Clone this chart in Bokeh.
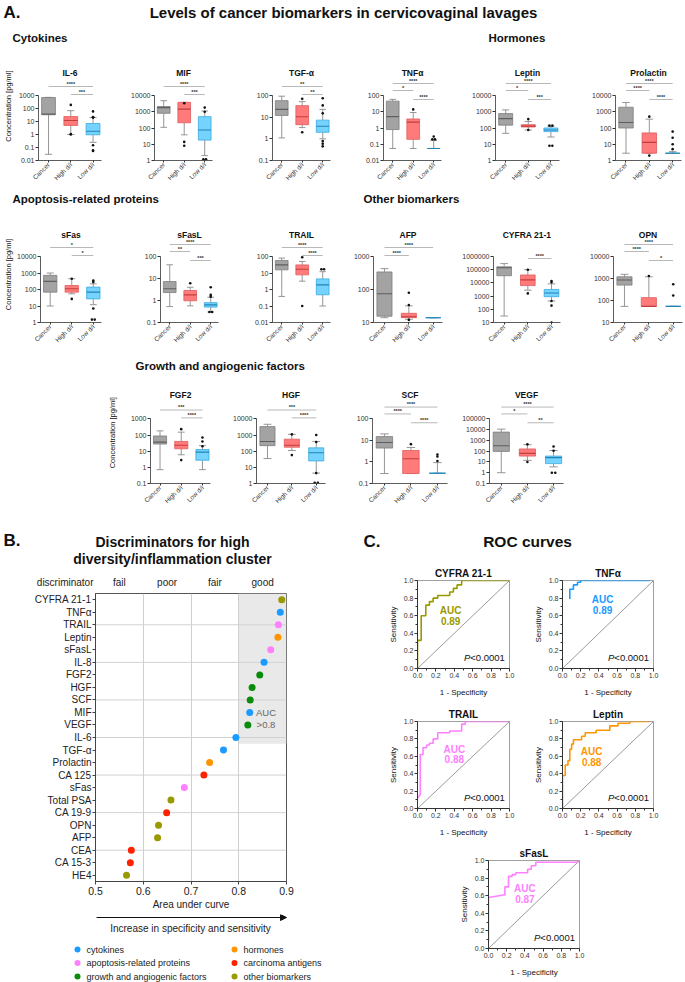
import math
from bokeh.plotting import figure
from bokeh.layouts import row, column
from bokeh.models import Range1d, FactorRange, Spacer, FixedTicker, NumeralTickFormatter, Arrow, NormalHead
from bokeh.core.properties import value
from bokeh.embed import file_html
from bokeh.resources import INLINE

FONT = "Liberation Sans"

# ---------------------------------------------------------------- data (panel A)
GROUPS = ["Cancer", "High d/i", "Low d/i"]
YLABEL = "Concentration [pg/ml]"
# per group: [whisker low, Q1, median, Q3, whisker high]
IL6_STATS = [[0.03, 33, 37, 700, 720], [1.0, 5.0, 12, 24, 68], [0.25, 0.95, 1.8, 7.0, 20]]
IL6_OUT = [[], [190, 1.1, 1.0], [60, 22, 21, 20, 0.15, 0.06, 0.055]]
IL6_SIG = [(0, 2, "****"), (1, 2, "***")]

MIF_STATS = [[110, 800, 1800, 2100, 4800], [38, 210, 1450, 3800, 3800], [2, 18, 75, 500, 1100]]
MIF_OUT = [[], [3300, 14, 8], [1800, 1000, 1.2, 1.2]]
MIF_SIG = [(0, 2, "****"), (1, 2, "***")]

TGFA_STATS = [[1.1, 12, 23, 58, 93], [3.3, 4.5, 10.5, 34, 52], [1.0, 2.0, 3.8, 7.3, 23]]
TGFA_OUT = [[], [70, 2.0], [75, 35, 15, 0.8, 0.6, 0.45]]
TGFA_SIG = [(0, 2, "**"), (1, 2, "**")]

TNFA_STATS = [[0.055, 0.8, 5, 45, 58], [0.055, 0.2, 2.3, 3.6, 9], [0.055, 0.055, 0.055, 0.055, 0.17]]
TNFA_OUT = [[], [14], [0.3, 0.2, 0.2]]
TNFA_SIG = [(0, 2, "****"), (0, 1, "*"), (1, 2, "****")]

LEPTIN_STATS = [[47, 150, 380, 770, 1300], [75, 115, 130, 160, 250], [28, 60, 75, 100, 130]]
LEPTIN_OUT = [[], [350, 75], [140, 140, 8, 8]]
LEPTIN_SIG = [(0, 2, "****"), (0, 1, "*"), (1, 2, "***")]

PROLACTIN_STATS = [[2.8, 100, 220, 1900, 3700], [2.8, 2.8, 13, 50, 350], [2.8, 2.8, 2.8, 2.8, 3.5]]
PROLACTIN_OUT = [[], [500, 2], [60, 25, 10, 5]]
PROLACTIN_SIG = [(0, 2, "****"), (0, 1, "****"), (1, 2, "****")]

SFAS_STATS = [[10, 69, 310, 720, 1000], [55, 69, 110, 175, 450], [12, 27, 69, 140, 220]]
SFAS_OUT = [[], [450, 27], [350, 280, 7, 1.5, 1.5]]
SFAS_SIG = [(0, 2, "*"), (1, 2, "*")]

SFASL_STATS = [[0.53, 2.3, 3.4, 7.3, 42], [0.57, 0.97, 1.8, 2.85, 4.0], [0.3, 0.5, 0.63, 0.8, 1.4]]
SFASL_OUT = [[], [6.1], [4, 1.8, 1.5, 0.3, 0.3]]
SFASL_SIG = [(0, 2, "****"), (0, 1, "**"), (1, 2, "***")]

TRAIL_STATS = [[0.38, 15.6, 31, 57, 80], [3.2, 7.7, 17, 31, 50], [0.1, 0.48, 1.9, 4.4, 12]]
TRAIL_OUT = [[], [90, 0.1], [17, 17]]
TRAIL_SIG = [(0, 2, "****"), (1, 2, "****")]

AFP_STATS = [[14, 15.5, 74, 340, 430], [12.5, 14, 15, 19, 32], [14, 14, 14, 14, 14]]
AFP_OUT = [[], [80, 34, 12], []]
AFP_SIG = [(0, 2, "****"), (0, 1, "****")]

CYFRA_STATS = [[31, 35000, 140000, 165000, 290000], [2800, 6300, 17000, 40000, 100000],
               [430, 900, 1700, 3200, 8500]]
CYFRA_OUT = [[], [100000, 1600], [14000, 11000, 430, 190, 10]]
CYFRA_SIG = [(1, 2, "****")]

OPN_STATS = [[54, 500, 850, 1200, 1550], [54, 54, 54, 135, 1200], [54, 54, 54, 54, 54]]
OPN_OUT = [[], [1300], [550, 170]]
OPN_SIG = [(0, 2, "****"), (0, 1, "****"), (1, 2, "*")]

FGF2_STATS = [[0.72, 27.5, 36, 87, 180], [6, 14, 23, 40, 150], [0.72, 2.75, 8.7, 12.6, 22]]
FGF2_OUT = [[], [230, 2.8], [70, 40, 20]]
FGF2_SIG = [(0, 2, "***"), (1, 2, "****")]

HGF_STATS = [[35, 220, 400, 3300, 4600], [110, 175, 230, 550, 1100], [4.4, 25, 80, 160, 400]]
HGF_OUT = [[], [1100, 57], [1000, 370, 4.4, 1.1, 1.1]]
HGF_SIG = [(0, 2, "***"), (1, 2, "****")]

SCF_STATS = [[0.29, 4.4, 8, 15, 20], [0.29, 0.29, 1.4, 3.4, 4.7], [0.3, 0.3, 0.3, 0.3, 0.93]]
SCF_OUT = [[], [6.7], [2.2, 1.8, 1.1]]
SCF_SIG = [(0, 2, "****"), (0, 1, "****"), (1, 2, "****")]

VEGF_STATS = [[1, 95, 320, 5900, 11000], [14, 35, 63, 160, 400], [3.5, 7, 25, 35, 115]]
VEGF_OUT = [[], [430, 10], [270, 110, 1, 1]]
VEGF_SIG = [(0, 2, "****"), (0, 1, "*"), (1, 2, "**")]

# axis decades (log10 of lowest and highest tick)
IL6_DEC, MIF_DEC, TGFA_DEC, TNFA_DEC = (-2, 3), (0, 4), (-1, 2), (-2, 2)
LEPTIN_DEC, PROLACTIN_DEC = (0, 4), (0, 4)
SFAS_DEC, SFASL_DEC, TRAIL_DEC = (0, 4), (-1, 2), (-2, 2)
AFP_DEC, CYFRA_DEC, OPN_DEC = (1, 3), (1, 6), (1, 4)
FGF2_DEC, HGF_DEC, SCF_DEC, VEGF_DEC = (-1, 3), (0, 4), (-1, 2), (-1, 5)

# ---------------------------------------------------------------- data (panel B)
B_MARKERS = ["CYFRA 21-1", "TNFα", "TRAIL", "Leptin", "sFasL", "IL-8", "FGF2", "HGF", "SCF", "MIF",
             "VEGF", "IL-6", "TGF-α", "Prolactin", "CA 125", "sFas", "Total PSA", "CA 19-9", "OPN",
             "AFP", "CEA", "CA 15-3", "HE4"]
B_AUC = [0.890, 0.887, 0.883, 0.882, 0.867, 0.853, 0.844, 0.828, 0.824, 0.823, 0.819, 0.794, 0.768,
         0.739, 0.727, 0.686, 0.658, 0.649, 0.632, 0.630, 0.575, 0.573, 0.565]
B_GROUP = ["other biomarkers", "cytokines", "apoptosis-related proteins", "hormones",
           "apoptosis-related proteins", "cytokines", "growth and angiogenic factors",
           "growth and angiogenic factors", "growth and angiogenic factors", "cytokines",
           "growth and angiogenic factors", "cytokines", "cytokines", "hormones", "carcinoma antigens",
           "apoptosis-related proteins", "other biomarkers", "carcinoma antigens", "other biomarkers",
           "other biomarkers", "carcinoma antigens", "carcinoma antigens", "other biomarkers"]
LEGEND_GROUPS = ["cytokines", "hormones", "apoptosis-related proteins", "carcinoma antigens",
                 "growth and angiogenic factors", "other biomarkers"]
LEGEND_COLORS = ["#1a9bff", "#ff9500", "#ff80ff", "#ff2200", "#0a8c0a", "#999900"]
BANDS = ["fail", "poor", "fair", "good"]
BAND_CENTERS = [0.55, 0.65, 0.75, 0.85]
AUC_TICKS = [0.5, 0.6, 0.7, 0.8, 0.9]
GOOD_THRESHOLD = 0.8

# ---------------------------------------------------------------- data (panel C)
CYFRA_FPR = [0, 0, 0.04, 0.04, 0.09, 0.09, 0.13, 0.13, 0.17, 0.17, 0.22, 0.22, 0.35, 0.35, 0.39, 0.39,
             0.43, 0.43, 0.48, 0.48, 1.0]
CYFRA_TPR = [0, 0.32, 0.32, 0.60, 0.60, 0.72, 0.72, 0.76, 0.76, 0.80, 0.80, 0.83, 0.83, 0.87, 0.87, 0.91,
             0.91, 0.95, 0.95, 1.0, 1.0]
TNFA_FPR = [0.08, 0.08, 0.12, 0.12, 0.165, 0.165, 0.20, 0.20, 0.96]
TNFA_TPR = [0.79, 0.90, 0.90, 0.95, 0.95, 0.98, 0.98, 1.0, 1.0]
TRAIL_FPR = [0, 0.03, 0.03, 0.06, 0.06, 0.10, 0.10, 0.13, 0.13, 0.17, 0.17, 0.22, 0.22, 0.35, 0.35, 0.48,
             0.48, 0.52, 0.52, 0.97]
TRAIL_TPR = [0.12, 0.16, 0.62, 0.62, 0.70, 0.70, 0.73, 0.73, 0.75, 0.75, 0.80, 0.80, 0.87, 0.87, 0.89, 0.89,
             0.97, 0.97, 1.0, 1.0]
LEPTIN_FPR = [0, 0, 0.03, 0.03, 0.06, 0.06, 0.08, 0.08, 0.10, 0.10, 0.12, 0.12, 0.21, 0.21, 0.25, 0.25,
              0.37, 0.37, 0.52, 0.52, 0.61, 0.61, 0.74, 0.74, 0.96]
LEPTIN_TPR = [0, 0.38, 0.38, 0.50, 0.50, 0.55, 0.55, 0.68, 0.68, 0.74, 0.74, 0.79, 0.79, 0.83, 0.83, 0.87,
              0.87, 0.90, 0.90, 0.95, 0.95, 0.98, 0.98, 1.0, 1.0]
SFASL_FPR = [0, 0, 0.18, 0.18, 0.22, 0.22, 0.26, 0.26, 0.30, 0.30, 0.43, 0.43, 0.47, 0.47, 0.52, 0.52, 0.98,
             0.98]
SFASL_TPR = [0.08, 0.58, 0.61, 0.70, 0.70, 0.82, 0.82, 0.84, 0.84, 0.86, 0.86, 0.90, 0.90, 0.94, 0.94, 0.98,
             0.98, 1.0]
ROC_AUC = {"CYFRA 21-1": "0.89", "TNFα": "0.89", "TRAIL": "0.88", "Leptin": "0.88", "sFasL": "0.87"}
ROC_P = "<0.0001"
ROC_TICKS = [0, 0.2, 0.4, 0.6, 0.8, 1.0]
ROC_MINOR = [0.1, 0.3, 0.5, 0.7, 0.9]
DIAG = [0, 1]

# ---------------------------------------------------------------- styles
BOX_FILL = ["#a3a3a3", "#ff7a7a", "#75d3ff"]
BOX_EDGE = ["#7d7d7d", "#e05c5c", "#3aa9dc"]
BOX_MED = ["#5e5e5e", "#c23e3e", "#2483b5"]
WHISK = "#8a8a8a"
AXC = "#333333"
SIG_OFFS = {1: [2], 2: [-9, -1], 3: [-12, -5, 4]}
SPLIT = 330  # x where panel B ends and panel C begins


def canvas(x0, x1, y0, y1):
    p = figure(width=x1 - x0, height=y1 - y0, x_range=Range1d(x0, x1),
               y_range=Range1d(y1, y0), x_axis_type=None, y_axis_type=None, title=None,
               toolbar_location=None, output_backend="svg", min_border=0, min_border_left=0,
               min_border_right=0, min_border_top=0, min_border_bottom=0)
    p.outline_line_color = None
    return p


def txt(p, x, y, s, size, style="normal", align="left", color="#111111", baseline="middle", **kw):
    p.text(x=[x], y=[y], text=[s], text_font=value(FONT), text_font_size=size,
           text_font_style=style, text_align=align, text_baseline=baseline, text_color=color, **kw)


def ylabel_canvas(x0, x1, y0, y1, xc, yc):
    c = canvas(x0, x1, y0, y1)
    txt(c, xc, yc, YLABEL, "7.5px", align="center", angle=math.pi / 2)
    return c


def spread(vals, x):
    counts = {}
    for v in vals:
        counts[v] = counts.get(v, 0) + 1
    seen, xs = {}, []
    for v in vals:
        n = counts[v]
        k = seen.get(v, 0)
        seen[v] = k + 1
        xs.append(x + (k - (n - 1) / 2) * 0.13)
    return xs


def box_fig(name, dec, stats, outs, sig, fx0, fx1, axx, frx, band):
    fy0, fy1, frt, tty, axt, axb = band
    lo, hi = dec
    bl = axx - fx0
    fw = frx - axx
    br = fx1 - frx
    bt = frt - fy0
    fh = axb - frt
    bb = fy1 - axb
    ppd = (axb - axt) / (hi - lo)

    def yv(ref_y):
        return 10 ** (hi + (axt - ref_y) / ppd)

    p = figure(width=bl + fw + br, height=bt + fh + bb, x_range=Range1d(-0.45, 2.38),
               y_range=Range1d(10 ** lo, yv(frt)), y_axis_type="log", title=None,
               toolbar_location=None, output_backend="svg", min_border_left=bl,
               min_border_right=br, min_border_top=bt, min_border_bottom=bb)
    p.outline_line_color = None
    p.xgrid.visible = False
    p.ygrid.visible = False

    xs = [0, 1, 2]
    lows = [s[0] for s in stats]
    q1 = [s[1] for s in stats]
    med = [s[2] for s in stats]
    q3 = [s[3] for s in stats]
    highs = [s[4] for s in stats]
    p.segment(x0=xs, y0=lows, x1=xs, y1=q1, line_color=WHISK, line_width=0.9)
    p.segment(x0=xs, y0=q3, x1=xs, y1=highs, line_color=WHISK, line_width=0.9)
    p.segment(x0=[x - 0.16 for x in xs], y0=lows, x1=[x + 0.16 for x in xs], y1=lows,
              line_color=WHISK, line_width=0.9)
    p.segment(x0=[x - 0.16 for x in xs], y0=highs, x1=[x + 0.16 for x in xs], y1=highs,
              line_color=WHISK, line_width=0.9)
    p.vbar(x=xs, width=0.62, bottom=q1, top=q3, fill_color=BOX_FILL, line_color=BOX_EDGE,
           line_width=0.8)
    p.segment(x0=[x - 0.31 for x in xs], y0=med, x1=[x + 0.31 for x in xs], y1=med,
              line_color=BOX_MED, line_width=1.1)
    for i, vals in enumerate(outs):
        if vals:
            p.scatter(x=spread(vals, i), y=vals, size=2.6, color="#111111", line_color=None)

    offs = SIG_OFFS[len(sig)]
    for (a, b, lab), off in zip(sig, offs):
        y = yv(axt + off)
        p.segment(x0=[a], y0=[y], x1=[b], y1=[y], line_color="#b0b0b0", line_width=0.9)
        txt(p, (a + b) / 2, y, lab, "5.5px", style="bold", align="center", color="#333333",
            baseline="bottom")

    txt(p, (-0.45 + 2.38) / 2, yv(tty), name, "8.5px", style="bold", align="center")

    ticks = [10 ** k for k in range(lo, hi + 1)]
    labels = {}
    for k, t in zip(range(lo, hi + 1), ticks):
        labels[t] = ("%.*f" % (-k, t)) if k < 0 else str(t)
    ya = p.yaxis[0]
    ya.ticker = FixedTicker(ticks=ticks, minor_ticks=[])
    ya.major_label_overrides = labels
    ya.bounds = (ticks[0], ticks[-1])
    ya.major_label_text_font = FONT
    ya.major_label_text_font_size = "7px"
    ya.major_label_text_color = AXC
    ya.major_label_standoff = 1
    ya.major_tick_out = 3
    ya.major_tick_in = 0
    ya.axis_line_color = AXC
    ya.major_tick_line_color = AXC
    ya.axis_line_width = 0.8

    xa = p.xaxis[0]
    xa.ticker = FixedTicker(ticks=[0, 1, 2], minor_ticks=[])
    xa.major_label_overrides = {i: g for i, g in enumerate(GROUPS)}
    xa.major_label_orientation = math.pi / 4
    xa.major_label_text_font = FONT
    xa.major_label_text_font_size = "6.5px"
    xa.major_label_text_color = AXC
    xa.major_label_standoff = 1
    xa.major_tick_out = 2
    xa.major_tick_in = 0
    xa.axis_line_color = AXC
    xa.major_tick_line_color = AXC
    xa.axis_line_width = 0.8
    return p


# ---------------------------------------------------------------- panel A
hdr1 = canvas(0, 685, 0, 60)
txt(hdr1, 3, 12, "A.", "17px", style="bold")
txt(hdr1, 343, 12, "Levels of cancer biomarkers in cervicovaginal lavages", "15px", style="bold",
    align="center")
txt(hdr1, 12, 37, "Cytokines", "11.5px", style="bold")
txt(hdr1, 488, 37, "Hormones", "11.5px", style="bold")

BAND1 = (60, 187, 64, 72, 95, 160)
B1 = [14, 113, 232, 345, 460, 578, 685]
AX1 = [38, 154, 272, 383, 495, 615]
FR1 = [101, 212, 330, 441, 559, 681]
row1_specs = [("IL-6", IL6_DEC, IL6_STATS, IL6_OUT, IL6_SIG),
              ("MIF", MIF_DEC, MIF_STATS, MIF_OUT, MIF_SIG),
              ("TGF-α", TGFA_DEC, TGFA_STATS, TGFA_OUT, TGFA_SIG),
              ("TNFα", TNFA_DEC, TNFA_STATS, TNFA_OUT, TNFA_SIG),
              ("Leptin", LEPTIN_DEC, LEPTIN_STATS, LEPTIN_OUT, LEPTIN_SIG),
              ("Prolactin", PROLACTIN_DEC, PROLACTIN_STATS, PROLACTIN_OUT, PROLACTIN_SIG)]
row1 = row([ylabel_canvas(0, B1[0], BAND1[0], BAND1[1], 8, 115)] +
           [box_fig(n, d, s, o, g, B1[i], B1[i + 1], AX1[i], FR1[i], BAND1)
            for i, (n, d, s, o, g) in enumerate(row1_specs)])

hdr2 = canvas(0, 685, 187, 222)
txt(hdr2, 12, 198, "Apoptosis-related proteins", "11.5px", style="bold")
txt(hdr2, 363, 198, "Other biomarkers", "11.5px", style="bold")

BAND2 = (222, 350, 226, 234, 256, 322)
B2 = [14, 115, 232, 345, 458, 578, 685]
AX2 = [38, 160, 272, 373, 493, 613]
FR2 = [101, 218, 330, 442, 560, 682]
row2_specs = [("sFas", SFAS_DEC, SFAS_STATS, SFAS_OUT, SFAS_SIG),
              ("sFasL", SFASL_DEC, SFASL_STATS, SFASL_OUT, SFASL_SIG),
              ("TRAIL", TRAIL_DEC, TRAIL_STATS, TRAIL_OUT, TRAIL_SIG),
              ("AFP", AFP_DEC, AFP_STATS, AFP_OUT, AFP_SIG),
              ("CYFRA 21-1", CYFRA_DEC, CYFRA_STATS, CYFRA_OUT, CYFRA_SIG),
              ("OPN", OPN_DEC, OPN_STATS, OPN_OUT, OPN_SIG)]
row2 = row([ylabel_canvas(0, B2[0], BAND2[0], BAND2[1], 8, 286)] +
           [box_fig(n, d, s, o, g, B2[i], B2[i + 1], AX2[i], FR2[i], BAND2)
            for i, (n, d, s, o, g) in enumerate(row2_specs)])

hdr3 = canvas(0, 685, 350, 382)
txt(hdr3, 135, 365, "Growth and angiogenic factors", "11.5px", style="bold")

BAND3 = (382, 510, 386, 395, 419, 485)
B3 = [120, 222, 340, 458, 575]
AX3 = [150, 256, 372, 489]
FR3 = [210, 325, 447, 563]
row3_specs = [("FGF2", FGF2_DEC, FGF2_STATS, FGF2_OUT, FGF2_SIG),
              ("HGF", HGF_DEC, HGF_STATS, HGF_OUT, HGF_SIG),
              ("SCF", SCF_DEC, SCF_STATS, SCF_OUT, SCF_SIG),
              ("VEGF", VEGF_DEC, VEGF_STATS, VEGF_OUT, VEGF_SIG)]
row3_children = [ylabel_canvas(0, B3[0], BAND3[0], BAND3[1], 112, 443)]
for i, (n, d, s, o, g) in enumerate(row3_specs):
    row3_children.append(box_fig(n, d, s, o, g, B3[i], B3[i + 1], AX3[i], FR3[i], BAND3))
row3_children.append(Spacer(width=685 - B3[-1], height=BAND3[1] - BAND3[0]))
row3 = row(row3_children)

# ---------------------------------------------------------------- panel B
PB_FRAME_X = (95, 286)
hB = canvas(0, SPLIT, 510, 590)
txt(hB, 3, 540, "B.", "17px", style="bold")
txt(hB, 172, 541, "Discriminators for high", "14px", style="bold", align="center")
txt(hB, 172, 558, "diversity/inflammation cluster", "14px", style="bold", align="center")
txt(hB, 93, 582, "discriminator", "10px", align="right", color="#222222")
for lab, c in zip(BANDS, BAND_CENTERS):
    xpx = PB_FRAME_X[0] + (c - AUC_TICKS[0]) / (AUC_TICKS[-1] - AUC_TICKS[0]) * (PB_FRAME_X[1] - PB_FRAME_X[0])
    txt(hB, xpx, 582, lab, "10px", align="center", color="#222222")

bl = PB_FRAME_X[0]
fw = PB_FRAME_X[1] - PB_FRAME_X[0]
br = SPLIT - PB_FRAME_X[1]
bt = 593 - 590
fh = 881 - 593
bb = 914 - 881
pB = figure(width=bl + fw + br, height=bt + fh + bb, x_range=Range1d(AUC_TICKS[0], AUC_TICKS[-1]),
            y_range=FactorRange(factors=list(reversed(B_MARKERS))), title=None,
            toolbar_location=None, output_backend="svg", min_border_left=bl, min_border_right=br,
            min_border_top=bt, min_border_bottom=bb)
pB.quad(left=[GOOD_THRESHOLD], right=[AUC_TICKS[-1]], bottom=[(B_MARKERS[11], -0.5)],
        top=[(B_MARKERS[0], 0.5)], fill_color="#e9e9e9", line_color=None, level="image")
hl = B_MARKERS[2::3]
pB.segment(x0=[AUC_TICKS[0]] * len(hl), x1=[AUC_TICKS[-1]] * len(hl), y0=hl, y1=hl,
           line_color="#d2d2d2", line_width=1)
gcol = dict(zip(LEGEND_GROUPS, LEGEND_COLORS))
pB.scatter(x=B_AUC, y=B_MARKERS, size=7, color=[gcol[g] for g in B_GROUP], line_color=None)
pB.text(x=[0.857, 0.857], y=["MIF", "VEGF"], text=["AUC", ">0.8"], text_font=value(FONT),
        text_font_size="9.5px", text_color="#666666", text_align="center", text_baseline="middle")
pB.outline_line_color = "#555555"
pB.outline_line_width = 1
pB.ygrid.visible = False
pB.xgrid.grid_line_color = "#cfcfcf"
pB.xgrid.grid_line_width = 1
pB.xaxis.ticker = FixedTicker(ticks=AUC_TICKS, minor_ticks=[])
pB.xaxis.formatter = NumeralTickFormatter(format="0.0")
pB.xaxis.axis_label = "Area under curve"
for ax in (pB.xaxis[0], pB.yaxis[0]):
    ax.major_label_text_font = FONT
    ax.major_label_text_font_size = "10px"
    ax.major_label_text_color = "#222222"
    ax.axis_line_color = "#444444"
    ax.major_tick_line_color = "#444444"
    ax.major_tick_out = 3
    ax.major_tick_in = 0
    ax.minor_tick_line_color = None
    ax.major_label_standoff = 1
pB.xaxis.major_label_text_font_size = "10.5px"
pB.xaxis.major_label_standoff = 2
pB.xaxis.axis_label_text_font = FONT
pB.xaxis.axis_label_text_font_size = "10px"
pB.xaxis.axis_label_text_font_style = "normal"
pB.xaxis.axis_label_text_color = "#222222"
pB.xaxis.axis_label_standoff = 1

fB = canvas(0, SPLIT, 914, 982)
fB.add_layout(Arrow(end=NormalHead(size=6, fill_color="#111111", line_color="#111111"),
                    x_start=96, y_start=917, x_end=286, y_end=917, line_width=1,
                    line_color="#111111"))
txt(fB, 190, 928, "Increase in specificity and sensitivity", "10px", align="center", color="#222222")
LEG_X = [77, 234]
for i, (g, c) in enumerate(zip(LEGEND_GROUPS, LEGEND_COLORS)):
    xx = LEG_X[i % 2]
    yy = 949 + 13.5 * (i // 2)
    fB.scatter(x=[xx], y=[yy], size=6, color=c, line_color=None)
    txt(fB, xx + 9, yy, g, "9px", color="#222222")

panelB = column(row(hB), row(pB), row(fB))


# ---------------------------------------------------------------- panel C
def roc_fig(name, fpr, tpr, color, fx0, fx1, frx0, frx1, fy0, fy1, fry0, fry1, auc_xy):
    bl = frx0 - fx0
    fw = frx1 - frx0
    br = fx1 - frx1
    bt = fry0 - fy0
    fh = fry1 - fry0
    bb = fy1 - fry1
    p = figure(width=bl + fw + br, height=bt + fh + bb, x_range=Range1d(0, 1), y_range=Range1d(0, 1),
               title=name, toolbar_location=None, output_backend="svg", min_border_left=bl,
               min_border_right=br, min_border_top=bt, min_border_bottom=bb)
    p.title.text_font = FONT
    p.title.text_font_size = "10px"
    p.title.text_font_style = "bold"
    p.title.align = "center"
    p.title.standoff = 3
    p.title.text_color = "#111111"
    p.xgrid.visible = False
    p.ygrid.visible = False
    p.outline_line_color = "#888888"
    p.outline_line_width = 0.8
    p.line(DIAG, DIAG, line_color="#555555", line_width=0.6)
    p.line(fpr, tpr, line_color=color, line_width=1.6)
    ax_, ay_ = auc_xy
    p.text(x=[ax_, ax_], y=[ay_, ay_ - 0.115], text=["AUC", ROC_AUC[name]], text_font=value(FONT),
           text_font_size="10px", text_font_style="bold", text_color=color, text_align="center",
           text_baseline="middle")
    txt(p, 0.95, 0.13, ROC_P, "9.5px", align="right", color="#111111")
    txt(p, 0.95, 0.13, "P", "9.5px", style="italic", align="right", color="#111111", x_offset=-34.6)
    for ax in (p.xaxis[0], p.yaxis[0]):
        ax.ticker = FixedTicker(ticks=ROC_TICKS, minor_ticks=ROC_MINOR)
        ax.formatter = NumeralTickFormatter(format="0.0")
        ax.major_label_text_font = FONT
        ax.major_label_text_font_size = "7px"
        ax.major_label_text_color = AXC
        ax.major_label_standoff = 1
        ax.axis_line_color = AXC
        ax.major_tick_line_color = AXC
        ax.minor_tick_line_color = AXC
        ax.major_tick_out = 3
        ax.major_tick_in = 0
        ax.minor_tick_out = 2
        ax.minor_tick_in = 0
        ax.axis_label_text_font = FONT
        ax.axis_label_text_font_size = "8px"
        ax.axis_label_text_font_style = "normal"
        ax.axis_label_text_color = "#111111"
    p.xaxis.axis_label = "1 - Specificity"
    p.xaxis.axis_label_standoff = 7
    p.yaxis.axis_label = "Sensitivity"
    p.yaxis.axis_label_standoff = 3
    return p


hC = canvas(SPLIT, 685, 510, 560)
txt(hC, 363, 541, "C.", "17px", style="bold")
txt(hC, 527, 541, "ROC curves", "15.5px", style="bold", align="center")

c_cyfra = roc_fig("CYFRA 21-1", CYFRA_FPR, CYFRA_TPR, "#999900", 370, 530, 417, 509, 560, 700, 580, 668,
                  (0.36, 0.66))
c_tnfa = roc_fig("TNFα", TNFA_FPR, TNFA_TPR, "#1a9bff", 530, 685, 561, 653, 560, 700, 580, 668,
                 (0.44, 0.78))
c_trail = roc_fig("TRAIL", TRAIL_FPR, TRAIL_TPR, "#ff80ff", 370, 530, 417, 509, 700, 842, 721, 808,
                  (0.40, 0.68))
c_leptin = roc_fig("Leptin", LEPTIN_FPR, LEPTIN_TPR, "#ff9500", 530, 685, 561, 653, 700, 842, 721, 808,
                   (0.32, 0.65))
c_sfasl = roc_fig("sFasL", SFASL_FPR, SFASL_TPR, "#ff80ff", 440, 610, 488, 579, 842, 982, 860, 948,
                  (0.40, 0.68))

cr1 = row(Spacer(width=370 - SPLIT, height=700 - 560), c_cyfra, c_tnfa)
cr2 = row(Spacer(width=370 - SPLIT, height=842 - 700), c_trail, c_leptin)
cr3 = row(Spacer(width=440 - SPLIT, height=982 - 842), c_sfasl, Spacer(width=685 - 610, height=982 - 842))
panelC = column(row(hC), cr1, cr2, cr3)

page = column(hdr1, row1, hdr2, row2, hdr3, row3, row(panelB, panelC))

with open("out.html", "w") as f:
    f.write(file_html(page, INLINE))
